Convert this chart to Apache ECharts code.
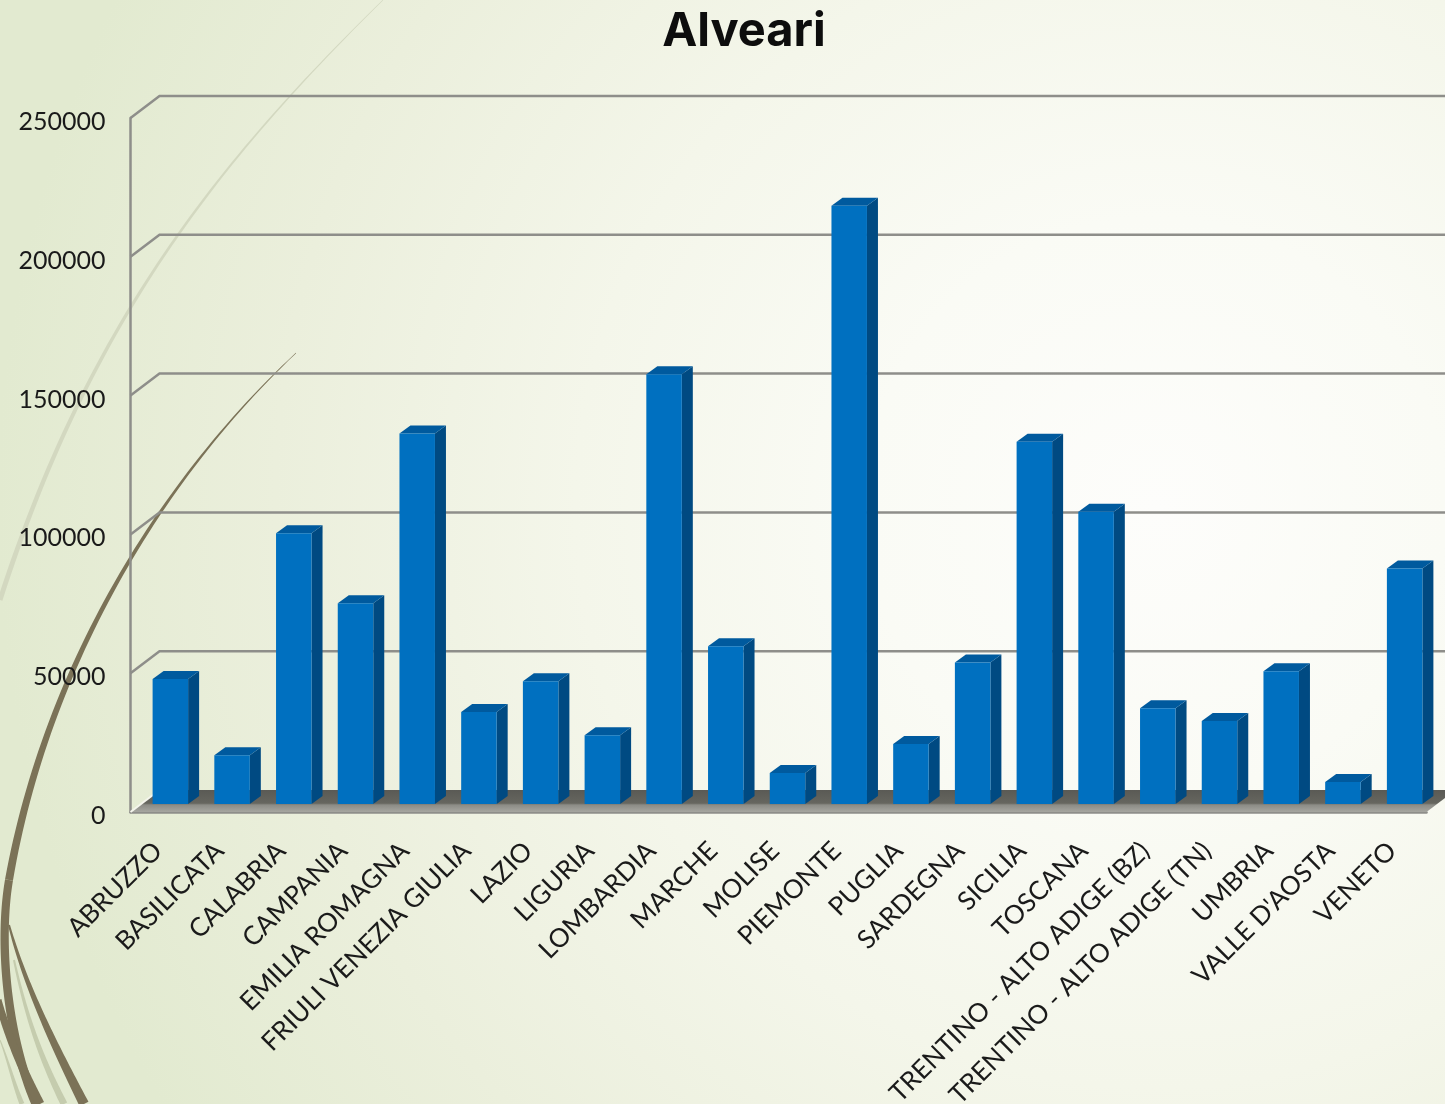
<!DOCTYPE html>
<html>
<head>
<meta charset="utf-8">
<style>html,body{margin:0;padding:0;width:1445px;height:1104px;overflow:hidden}#c{width:1445px;height:1104px}</style>
<script src="https://cdn.jsdelivr.net/npm/echarts@6/dist/echarts.min.js"></script>
</head>
<body>
<div id="c"></div>
<script>
const categories = ["ABRUZZO","BASILICATA","CALABRIA","CAMPANIA","EMILIA ROMAGNA","FRIULI VENEZIA GIULIA","LAZIO","LIGURIA","LOMBARDIA","MARCHE","MOLISE","PIEMONTE","PUGLIA","SARDEGNA","SICILIA","TOSCANA","TRENTINO - ALTO ADIGE (BZ)","TRENTINO - ALTO ADIGE (TN)","UMBRIA","VALLE D'AOSTA","VENETO"];
const alveari = [45000,17600,97500,72300,133500,33100,44200,24800,154800,56800,11200,215500,21600,51000,130500,105300,34500,29900,47800,7900,84800];
const yTicks = [0,50000,100000,150000,200000,250000];

const FONT = 'Lato, "Open Sans", sans-serif';
const WALL_DX = 29, WALL_DY = -22;      // back wall offset
const BAR_DX = 9, BAR_DY = -8;          // bar front-face offset on the floor
const BAR_W = 35.5, SIDE_DX = 11, SIDE_DY = -8;

function taper(p0,p1,p2,p3,w0,w1){
  const L=[],R=[],n=60;
  for(let i=0;i<=n;i++){
    const t=i/n,u=1-t;
    const x=u*u*u*p0[0]+3*u*u*t*p1[0]+3*u*t*t*p2[0]+t*t*t*p3[0];
    const y=u*u*u*p0[1]+3*u*u*t*p1[1]+3*u*t*t*p2[1]+t*t*t*p3[1];
    let dx=3*u*u*(p1[0]-p0[0])+6*u*t*(p2[0]-p1[0])+3*t*t*(p3[0]-p2[0]);
    let dy=3*u*u*(p1[1]-p0[1])+6*u*t*(p2[1]-p1[1])+3*t*t*(p3[1]-p2[1]);
    const len=Math.hypot(dx,dy)||1; dx/=len; dy/=len;
    const w=(w0+(w1-w0)*t)/2;
    L.push([x-dy*w,y+dx*w]); R.unshift([x+dy*w,y-dx*w]);
  }
  return L.concat(R);
}
function curve(p,w0,w1,color){
  return {type:'polygon',silent:true,z:-10,shape:{points:taper(p[0],p[1],p[2],p[3],w0,w1)},style:{fill:color}};
}
const BROWN='#7b7257', PALE='#d3d8c0', PALE2='#c5ccae';

const option = {
  animation:false,
  backgroundColor:{type:'radial',x:0.8,y:0.46,r:1.05,colorStops:[
    {offset:0,color:'#fdfdfb'},{offset:0.25,color:'#fafbf5'},{offset:0.5,color:'#f4f6ea'},{offset:0.76,color:'#ebefdc'},{offset:1,color:'#e2ead0'}]},
  title:{text:'Alveari',left:739,top:3,textAlign:'center',
    textStyle:{fontFamily:'Inter, Lato, sans-serif',fontWeight:'bold',fontSize:47,color:'#0d0d0d'}},
  graphic:{elements:[
    curve([[383,0],[220,160],[90,320],[0,600]],0.6,5,PALE),
    curve([[14,960],[27,1020],[42,1060],[64,1104]],2,7,PALE2),
    curve([[0,1040],[8,1060],[14,1085],[22,1104]],1,5,PALE2),
    curve([[296,353],[150,490],[44,680],[9,880]],0.5,8,BROWN),
    curve([[9,880],[-2,945],[8,1040],[36,1104]],8,9,BROWN),
    curve([[9,925],[25,985],[54,1045],[84,1104]],2,10,BROWN),
    curve([[-2,1000],[6,1030],[20,1065],[40,1104]],7,9,BROWN)
  ]},
  grid:{left:130.5,right:18.5,top:118,bottom:292,containLabel:false,outerBoundsMode:'none'},
  xAxis:{type:'category',data:categories,
    axisLine:{show:true,lineStyle:{color:'#8e8e8a',width:2.5}},
    axisTick:{show:false},splitLine:{show:false},
    axisLabel:{interval:0,rotate:45,margin:31,padding:[0,5,0,0],fontFamily:FONT,fontSize:26,color:'#1a1a1a',hideOverlap:false}},
  yAxis:{type:'value',min:0,max:250000,interval:50000,
    axisLine:{show:true,lineStyle:{color:'#8e8e8a',width:2.5}},
    axisTick:{show:false},splitLine:{show:false},
    axisLabel:{margin:25,verticalAlign:'top',lineHeight:8,fontFamily:FONT,fontSize:25,color:'#1a1a1a',
      formatter:function(v){return String(v);}}},
  series:[
    {type:'custom',name:'pareti',coordinateSystem:'cartesian2d',data:yTicks.map(function(v){return [0,v];}),
     silent:true,clip:false,z:1,
     encode:{x:0,y:1},
     renderItem:function(params,api){
       const v=api.value(1);
       const p=api.coord([0,v]);
       const x0=params.coordSys.x, x1=params.coordSys.x+params.coordSys.width;
       const y=p[1];
       if(v===0){
         return {type:'group',children:[
           {type:'polygon',shape:{points:[[x0,y],[x0+WALL_DX,y+WALL_DY],[x1+WALL_DX,y+WALL_DY],[x1,y]]},
            style:{fill:{type:'linear',x:0,y:0,x2:0,y2:1,colorStops:[
              {offset:0,color:'#5a5a55'},{offset:0.6,color:'#66665f'},{offset:0.68,color:'#8c8c86'},{offset:1,color:'#a6a6a0'}]}}},
           {type:'polyline',shape:{points:[[x0,y],[x0+WALL_DX,y+WALL_DY]]},style:{stroke:'#f4f5ec',lineWidth:2,fill:null}}
         ]};
       }
       return {type:'polyline',shape:{points:[[x0,y],[x0+WALL_DX,y+WALL_DY],[x1+WALL_DX,y+WALL_DY]]},
         style:{stroke:'#8e8e8a',lineWidth:2.5,fill:null}};
     }},
    {type:'custom',name:'Alveari',coordinateSystem:'cartesian2d',data:alveari.map(function(v,i){return [i,v];}),
     clip:false,z:3,encode:{x:0,y:1},
     renderItem:function(params,api){
       const top=api.coord([api.value(0),api.value(1)]);
       const base=api.coord([api.value(0),0]);
       const l=top[0]+BAR_DX-BAR_W/2, r=l+BAR_W, t=top[1]+BAR_DY, b=base[1]+BAR_DY;
       return {type:'group',children:[
         {type:'polygon',shape:{points:[[r,t],[r+SIDE_DX,t+SIDE_DY],[r+SIDE_DX,b+SIDE_DY],[r,b]]},style:{fill:'#004a82'}},
         {type:'polygon',shape:{points:[[l,t],[l+SIDE_DX,t+SIDE_DY],[r+SIDE_DX,t+SIDE_DY],[r,t]]},style:{fill:'#005a9e'}},
         {type:'rect',shape:{x:l,y:t,width:BAR_W,height:b-t},style:{fill:'#0070c0'}}
       ]};
     }}
  ]
};
const chart = echarts.init(document.getElementById('c'),null,{renderer:'canvas'});
chart.setOption(option);
</script>
</body>
</html>
